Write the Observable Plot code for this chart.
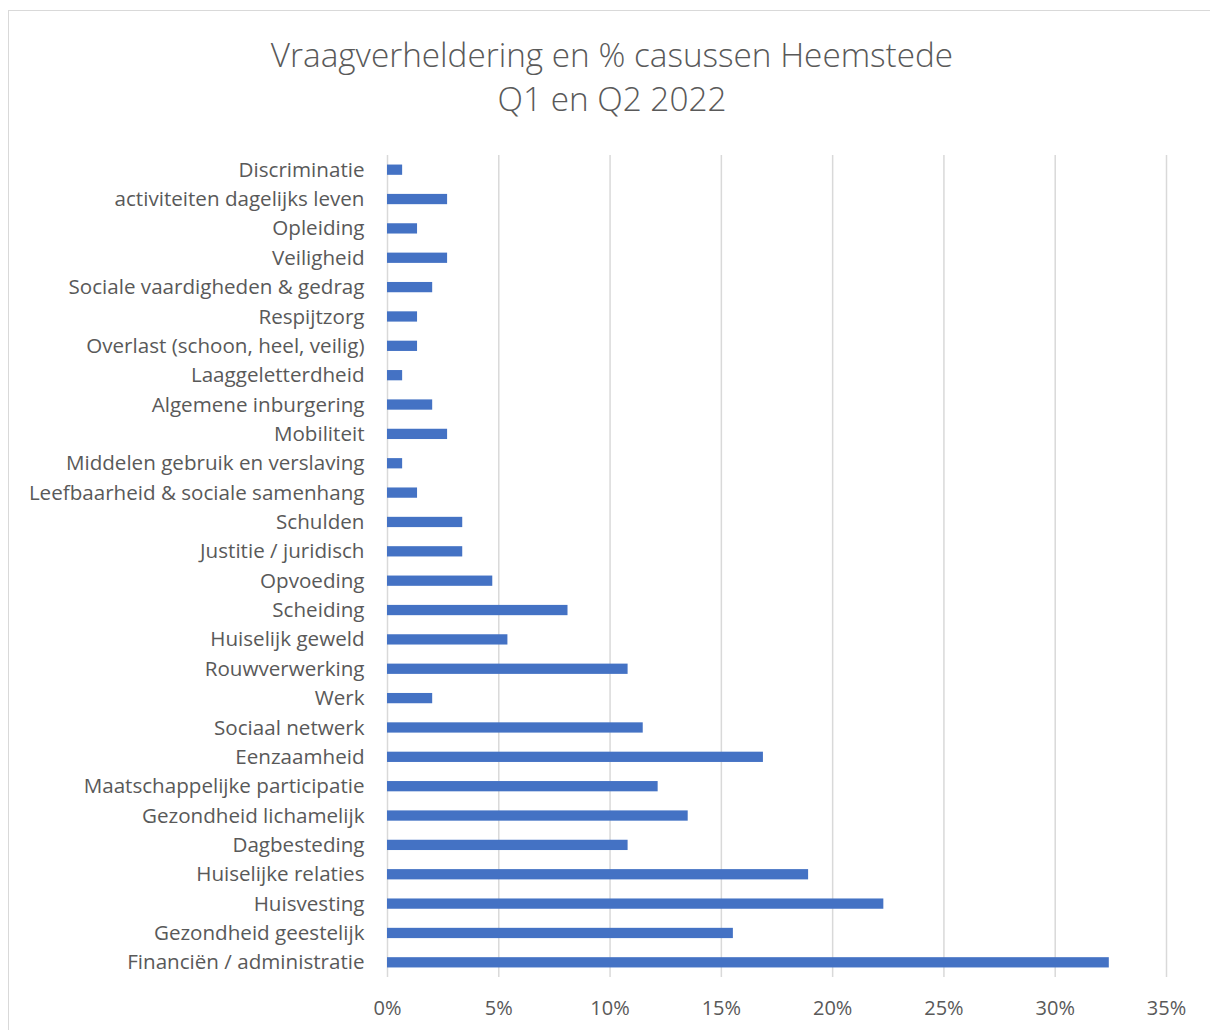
<!DOCTYPE html>
<html>
<head>
<meta charset="utf-8">
<script src="https://cdn.jsdelivr.net/npm/d3@7"></script>
<script src="https://cdn.jsdelivr.net/npm/@observablehq/plot@0.6"></script>
<style>
  html, body { margin: 0; padding: 0; background: #fff; }
  #wrap { position: relative; width: 1210px; height: 1030px; overflow: hidden; }
  #frame { position: absolute; left: 8px; top: 10px; width: 1220px; height: 1040px; border: 1px solid #d9d9d9; box-sizing: border-box; }
  #title { position: absolute; left: 0; top: 32px; width: 1224px; text-align: center; font-family: "Open Sans", sans-serif; font-weight: 300; font-size: 33.3px; line-height: 44px; color: #595959; z-index: 2; }
  #chart { position: absolute; left: 0; top: 0; }
</style>
</head>
<body>
<div id="wrap">
  <div id="frame"></div>
  <div id="title">Vraagverheldering en % casussen Heemstede<br>Q1 en Q2 2022</div>
  <div id="chart"></div>
</div>
<script>
const categories = [
  "Discriminatie",
  "activiteiten dagelijks leven",
  "Opleiding",
  "Veiligheid",
  "Sociale vaardigheden & gedrag",
  "Respijtzorg",
  "Overlast (schoon, heel, veilig)",
  "Laaggeletterdheid",
  "Algemene inburgering",
  "Mobiliteit",
  "Middelen gebruik en verslaving",
  "Leefbaarheid & sociale samenhang",
  "Schulden",
  "Justitie / juridisch",
  "Opvoeding",
  "Scheiding",
  "Huiselijk geweld",
  "Rouwverwerking",
  "Werk",
  "Sociaal netwerk",
  "Eenzaamheid",
  "Maatschappelijke participatie",
  "Gezondheid lichamelijk",
  "Dagbesteding",
  "Huiselijke relaties",
  "Huisvesting",
  "Gezondheid geestelijk",
  "Financiën / administratie"
];
const values = [
  0.0068, 0.0270, 0.0135, 0.0270, 0.0203, 0.0135, 0.0135, 0.0068,
  0.0203, 0.0270, 0.0068, 0.0135, 0.0338, 0.0338, 0.0473, 0.0811,
  0.0541, 0.1081, 0.0203, 0.1149, 0.1689, 0.1216, 0.1351, 0.1081,
  0.1892, 0.2230, 0.1554, 0.3243
];
const xTicks = [0, 0.05, 0.10, 0.15, 0.20, 0.25, 0.30, 0.35];

const data = categories.map((c, i) => ({category: c, value: values[i]}));

const chart = Plot.plot({
  width: 1210,
  height: 1030,
  marginLeft: 387,
  marginRight: 44,
  marginTop: 155,
  marginBottom: 53,
  style: {fontFamily: "'Open Sans', sans-serif", color: "#595959", background: "transparent"},
  x: {domain: [0, 0.35], ticks: xTicks, tickFormat: d3.format(".0%"), label: null},
  y: {domain: categories, paddingInner: 0.65, paddingOuter: 0.325, round: false, label: null},
  marks: [
    Plot.ruleX(xTicks, {stroke: "#d9d9d9", strokeWidth: 1.5}),
    Plot.barX(data, {y: "category", x: "value", fill: "#4472C4"}),
    Plot.axisX({ticks: xTicks, tickFormat: d3.format(".0%"), tickSize: 0, tickPadding: 23, fontSize: 20, fill: "#595959", label: null}),
    Plot.axisY({tickSize: 0, tickPadding: 23, fontSize: 20.6, fill: "#595959", label: null})
  ]
});
document.getElementById("chart").appendChild(chart);
</script>
</body>
</html>
